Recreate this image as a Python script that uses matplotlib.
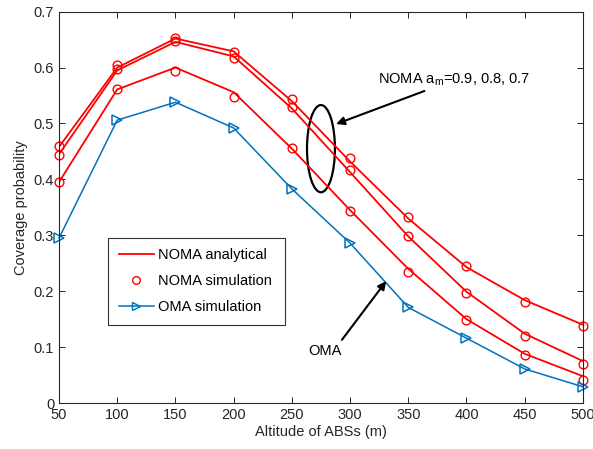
import numpy as np
import matplotlib
matplotlib.use("Agg")
import matplotlib.pyplot as plt
from matplotlib.patches import Ellipse

# altitude of ABSs (m)
altitude = [50, 100, 150, 200, 250, 300, 350, 400, 450, 500]

# NOMA analytical, a_m = 0.9, 0.8, 0.7
noma_ana_1 = [0.458, 0.600, 0.652, 0.629, 0.540, 0.432, 0.330, 0.243, 0.184, 0.140]
noma_ana_2 = [0.445, 0.595, 0.646, 0.620, 0.527, 0.413, 0.298, 0.199, 0.124, 0.075]
noma_ana_3 = [0.395, 0.561, 0.600, 0.556, 0.455, 0.345, 0.240, 0.150, 0.088, 0.048]

# NOMA simulation
noma_sim_1 = [0.460, 0.604, 0.653, 0.627, 0.544, 0.439, 0.333, 0.245, 0.181, 0.138]
noma_sim_2 = [0.443, 0.598, 0.647, 0.617, 0.529, 0.416, 0.298, 0.197, 0.120, 0.069]
noma_sim_3 = [0.395, 0.561, 0.594, 0.548, 0.456, 0.343, 0.235, 0.148, 0.086, 0.042]

# OMA simulation
oma_sim = [0.295, 0.506, 0.538, 0.492, 0.383, 0.286, 0.171, 0.116, 0.061, 0.029]

red = "#ff0000"
blue = "#0072bd"
fs = 10.5

plt.rcParams["font.family"] = ["Liberation Sans", "DejaVu Sans"]
fig = plt.figure(figsize=(5.93, 4.49), dpi=100)
ax = fig.add_axes([0.0995, 0.1024, 0.8835, 0.8716])

for y in [noma_ana_1, noma_ana_2, noma_ana_3]:
    ax.plot(altitude, y, color=red, lw=1.3)
for y in [noma_sim_1, noma_sim_2, noma_sim_3]:
    ax.plot(altitude, y, ls="none", marker="o", ms=6.3, mfc="none", mec=red, mew=1.0, clip_on=False)
ax.plot(altitude, oma_sim, color=blue, lw=1.1, marker=">", ms=6.5, mfc="none", mec=blue, mew=1.1, clip_on=False)

# legend proxies
h1, = ax.plot([], [], color=red, lw=1.3, label="NOMA analytical")
h2, = ax.plot([], [], ls="none", marker="o", ms=5.5, mfc="none", mec=red, mew=1.0, label="NOMA simulation")
h3, = ax.plot([], [], color=blue, lw=1.1, marker=">", ms=6, mfc="none", mec=blue, label="OMA simulation")
leg = ax.legend(handles=[h1, h2, h3], loc="lower left", bbox_to_anchor=(0.0935, 0.2, 0.338, 0.23),
                mode="expand", borderaxespad=0, fontsize=fs, fancybox=False, framealpha=1,
                edgecolor="#333333", borderpad=0.75, labelspacing=0.8, handlelength=2.4,
                handletextpad=0.3)
leg.get_frame().set_linewidth(0.8)

# annotations
ax.add_patch(Ellipse((275, 0.455), 24, 0.156, fill=False, ec="black", lw=1.6))
ax.annotate("NOMA a$_\\mathregular{m}$=0.9, 0.8, 0.7", xy=(288, 0.499), xytext=(324, 0.578),
            fontsize=fs, va="center",
            arrowprops=dict(arrowstyle="-|>", color="black", lw=1.5, mutation_scale=12, shrinkA=0, shrinkB=0))
ax.annotate("", xy=(331, 0.218), xytext=(293, 0.113),
            arrowprops=dict(arrowstyle="-|>", color="black", lw=1.5, mutation_scale=12, shrinkA=0, shrinkB=0))
ax.text(278.5, 0.093, "OMA", fontsize=fs, ha="center", va="center")

ax.set_xlim(50, 500)
ax.set_ylim(0, 0.7)
ax.set_xticks(range(50, 501, 50))
ax.set_yticks(np.arange(0, 0.71, 0.1))
ax.set_yticklabels(["0", "0.1", "0.2", "0.3", "0.4", "0.5", "0.6", "0.7"])
ax.tick_params(direction="in", top=True, right=True, labelsize=fs, colors="#262626", length=4, width=0.7)
for s in ax.spines.values():
    s.set_color("#262626")
    s.set_linewidth(0.8)
ax.set_xlabel("Altitude of ABSs (m)", fontsize=fs, color="#262626", labelpad=2)
ax.set_ylabel("Coverage probability", fontsize=fs, color="#262626", labelpad=4)

fig.savefig("out.png", dpi=100)
